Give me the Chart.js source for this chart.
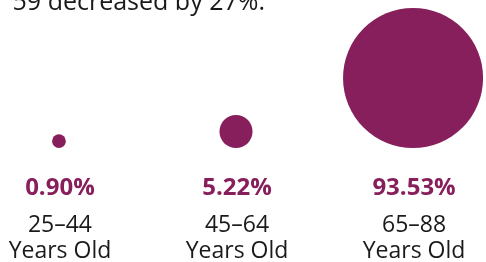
<!DOCTYPE html>
<html>
<head>
<meta charset="utf-8">
<script src="https://cdn.jsdelivr.net/npm/chart.js@4"></script>
<style>
  body { margin: 0; background: #fff; overflow: hidden; }
  #wrap { position: relative; width: 486px; height: 262px; overflow: hidden; }
  #lead {
    position: absolute; right: 221px; top: -17px; white-space: nowrap;
    font: 25px "Open Sans", sans-serif; color: #1a1a1a;
  }
</style>
</head>
<body>
<div id="wrap">
  <div id="lead">59 decreased by 27%.</div>
  <canvas id="chart"></canvas>
</div>
<script>
const ageGroups = ['25–44', '45–64', '65–88'];
const shares = [0.90, 5.22, 93.53];
const suffix = 'Years Old';

const purple = '#861f5b';
// circle area follows the share
const radiusScale = 7.24;

const labelsPlugin = {
    id: 'bubbleLabels',
    afterDatasetsDraw(chart) {
        const {ctx, scales: {x}} = chart;
        ctx.save();
        ctx.textAlign = 'center';
        ctx.textBaseline = 'alphabetic';
        shares.forEach((v, i) => {
            const px = x.getPixelForValue(i) + 1;
            ctx.fillStyle = purple;
            ctx.font = 'bold 24px "Open Sans", sans-serif';
            ctx.fillText(v.toFixed(2) + '%', px, 195);
            ctx.fillStyle = '#1a1a1a';
            ctx.font = '23px "Open Sans", sans-serif';
            ctx.fillText(ageGroups[i], px, 232);
            ctx.fillText(suffix, px, 258);
        });
        ctx.restore();
    }
};

new Chart(document.getElementById('chart'), {
    type: 'bubble',
    data: {
        datasets: [{
            data: shares.map((v, i) => {
                const r = radiusScale * Math.sqrt(v);
                return {x: i, y: r, r: r};
            }),
            backgroundColor: purple,
            borderWidth: 0,
            hoverRadius: 0,
            clip: false
        }]
    },
    options: {
        responsive: true,
        maintainAspectRatio: false,
        animation: false,
        events: [],
        layout: {autoPadding: false, padding: {top: 0, bottom: 114, left: 0, right: 0}},
        plugins: {legend: {display: false}, tooltip: {enabled: false}},
        scales: {
            x: {type: 'linear', min: -0.333, max: 2.412, display: false},
            y: {type: 'linear', min: 0, max: 148, display: false}
        }
    },
    plugins: [labelsPlugin]
});
</script>
</body>
</html>
